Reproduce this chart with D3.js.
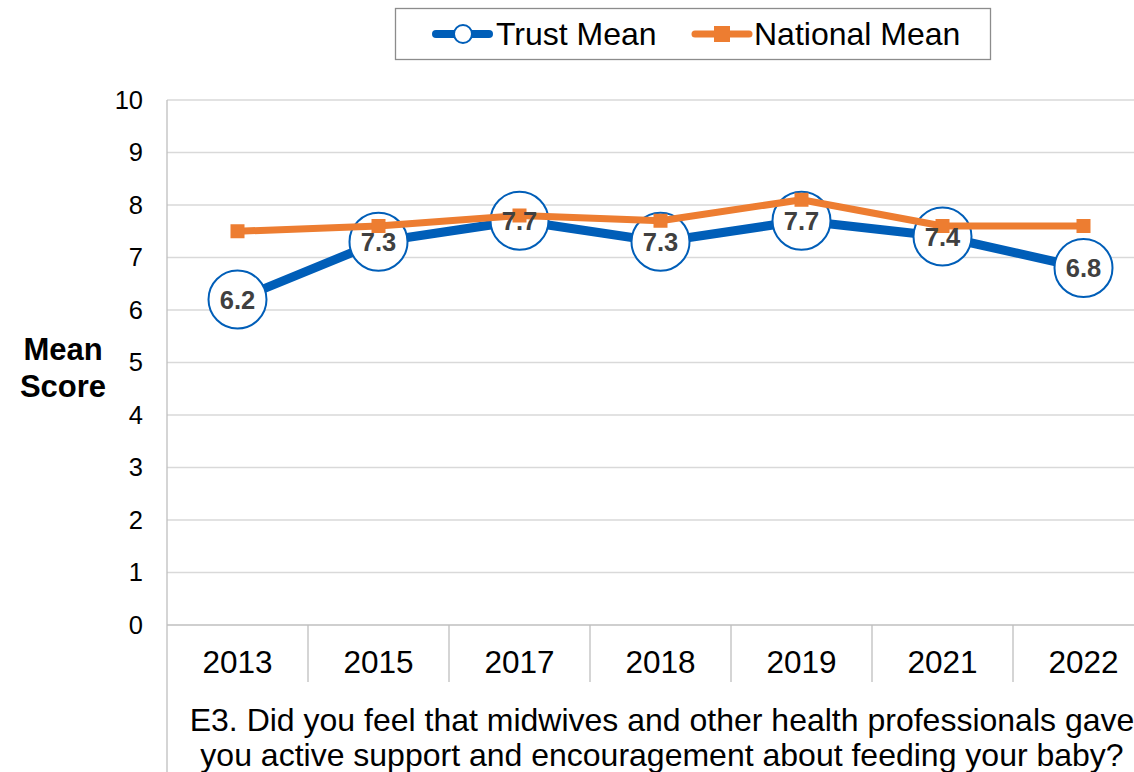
<!DOCTYPE html>
<html>
<head>
<meta charset="utf-8">
<script src="https://cdn.jsdelivr.net/npm/d3@7"></script>
<style>
  html, body { margin: 0; padding: 0; background: #fff; overflow: hidden; }
  svg { display: block; font-family: "Liberation Sans", Arial, sans-serif; }
</style>
</head>
<body>
<svg id="chart" width="1134" height="772"></svg>
<script>
const years = ["2013", "2015", "2017", "2018", "2019", "2021", "2022"];
const trustMean = [6.2, 7.3, 7.7, 7.3, 7.7, 7.4, 6.8];
const nationalMean = [7.5, 7.6, 7.8, 7.7, 8.1, 7.6, 7.6];
const yTicks = [0, 1, 2, 3, 4, 5, 6, 7, 8, 9, 10];
const titleLines = [
  "E3. Did you feel that midwives and other health professionals gave",
  "you active support and encouragement about feeding your baby?"
];

const BLUE = "#005EB8";
const ORANGE = "#ED7D31";

const svg = d3.select("#chart");
const plotLeft = 167, plotRight = 1154, plotTop = 100, plotBottom = 625;

const x = d3.scaleBand().domain(years).range([plotLeft, plotRight]);
const y = d3.scaleLinear().domain([0, 10]).range([plotBottom, plotTop]);
const cx = d => x(d) + x.bandwidth() / 2;

// horizontal gridlines
svg.append("g").selectAll("line").data(yTicks.filter(t => t > 0)).join("line")
  .attr("x1", plotLeft).attr("x2", plotRight)
  .attr("y1", d => y(d)).attr("y2", d => y(d))
  .attr("stroke", "#d9d9d9").attr("stroke-width", 1.3);

// y axis
const yAxis = svg.append("g").attr("transform", `translate(${plotLeft},0)`)
  .call(d3.axisLeft(y).tickValues(yTicks).tickSize(0).tickPadding(24));
yAxis.select(".domain").remove();
yAxis.attr("font-size", null).attr("font-family", null);
yAxis.selectAll("text")
  .style("font-size", "25.5px").style("font-family", "'Liberation Sans', Arial, sans-serif")
  .attr("fill", "#000");
svg.append("line").attr("x1", plotLeft).attr("x2", plotLeft).attr("y1", plotTop).attr("y2", 772)
  .attr("stroke", "#bfbfbf").attr("stroke-width", 1.3);

// x axis with category separators
svg.append("line").attr("x1", plotLeft).attr("x2", plotRight).attr("y1", plotBottom).attr("y2", plotBottom)
  .attr("stroke", "#bfbfbf").attr("stroke-width", 1.3);
svg.append("g").selectAll("line").data(years.slice(1)).join("line")
  .attr("x1", d => x(d)).attr("x2", d => x(d))
  .attr("y1", plotBottom).attr("y2", 682)
  .attr("stroke", "#bfbfbf").attr("stroke-width", 1.3);
svg.append("g").selectAll("text").data(years).join("text")
  .attr("x", d => cx(d)).attr("y", 673)
  .attr("text-anchor", "middle").attr("font-size", 31.5).attr("fill", "#000")
  .text(d => d);

// axis title
svg.append("text").attr("x", 63).attr("y", 360)
  .attr("text-anchor", "middle").attr("font-size", 31).attr("font-weight", "bold")
  .selectAll("tspan").data(["Mean", "Score"]).join("tspan")
  .attr("x", 63).attr("dy", (d, i) => i === 0 ? 0 : 37).text(d => d);

// question text
svg.append("g").selectAll("text").data(titleLines).join("text")
  .attr("x", 662).attr("y", (d, i) => 731 + i * 35)
  .attr("text-anchor", "middle").attr("font-size", 32).attr("fill", "#000")
  .text(d => d);

// trust line + circles
const line = d3.line().x((d, i) => cx(years[i])).y(d => y(d));
svg.append("path").datum(trustMean).attr("d", line)
  .attr("fill", "none").attr("stroke", BLUE).attr("stroke-width", 9)
  .attr("stroke-linejoin", "round");
svg.append("g").selectAll("circle").data(trustMean).join("circle")
  .attr("cx", (d, i) => cx(years[i])).attr("cy", d => y(d)).attr("r", 29)
  .attr("fill", "#fff").attr("stroke", BLUE).attr("stroke-width", 2);

// national line + squares
svg.append("path").datum(nationalMean).attr("d", line)
  .attr("fill", "none").attr("stroke", ORANGE).attr("stroke-width", 7)
  .attr("stroke-linejoin", "round");
svg.append("g").selectAll("rect").data(nationalMean).join("rect")
  .attr("x", (d, i) => cx(years[i]) - 7).attr("y", d => y(d) - 7)
  .attr("width", 14).attr("height", 14).attr("fill", ORANGE);

// trust value labels
svg.append("g").selectAll("text").data(trustMean).join("text")
  .attr("x", (d, i) => cx(years[i])).attr("y", d => y(d) + 9)
  .attr("text-anchor", "middle").attr("font-size", 25.5).attr("font-weight", "bold")
  .attr("fill", "#404040").text(d => d.toFixed(1));

// legend
const lg = svg.append("g");
lg.append("rect").attr("x", 395.5).attr("y", 8.5).attr("width", 595).attr("height", 51)
  .attr("fill", "#fff").attr("stroke", "#8c8c8c").attr("stroke-width", 1.3);
lg.append("line").attr("x1", 436).attr("x2", 489).attr("y1", 34).attr("y2", 34)
  .attr("stroke", BLUE).attr("stroke-width", 8).attr("stroke-linecap", "round");
lg.append("circle").attr("cx", 463).attr("cy", 34).attr("r", 9)
  .attr("fill", "#fff").attr("stroke", BLUE).attr("stroke-width", 2);
lg.append("text").attr("x", 496).attr("y", 45).attr("font-size", 32).text("Trust Mean");
lg.append("line").attr("x1", 695).attr("x2", 749).attr("y1", 34).attr("y2", 34)
  .attr("stroke", ORANGE).attr("stroke-width", 7).attr("stroke-linecap", "round");
lg.append("rect").attr("x", 714).attr("y", 26).attr("width", 16).attr("height", 16).attr("fill", ORANGE);
lg.append("text").attr("x", 754).attr("y", 45).attr("font-size", 32).text("National Mean");
</script>
</body>
</html>
